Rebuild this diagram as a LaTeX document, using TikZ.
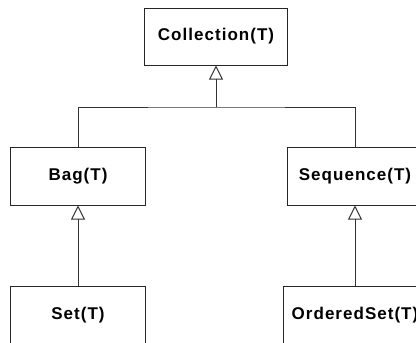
\documentclass[tikz,border=0pt]{standalone}
\usepackage{fontspec}
\setmainfont{Liberation Sans}[LetterSpace=6]
\usetikzlibrary{arrows.meta}
\begin{document}
\begin{tikzpicture}[x=1bp,y=-1bp,
  classbox/.style={draw=black!85, line width=1bp, fill=white, inner sep=0pt,
    font=\fontsize{17bp}{19bp}\selectfont\bfseries, text=black},
  link/.style={draw=black!80, line width=1bp},
  gen/.style={link, -{Triangle[open, length=14bp, width=14bp, line width=1bp]}}]
\useasboundingbox (0,0) rectangle (416,343);
\clip (0,0) rectangle (416,343);

% class boxes
\node[classbox, minimum width=142bp, minimum height=57bp] (coll) at (216,36.5) {Collection(T)};
\node[classbox, minimum width=135bp, minimum height=58bp] (bag) at (78,176) {Bag(T)};
\node[classbox, minimum width=134bp, minimum height=58bp] (seq) at (355,176) {Sequence(T)};
\node[classbox, minimum width=135bp, minimum height=58bp] (set) at (78,315) {Set(T)};
\node[classbox, minimum width=142bp, minimum height=58bp] (oset) at (355,315) {OrderedSet(T)};

% generalisation links
\coordinate (j) at (216,107);
\draw[link] (bag.north) |- (j) -| (seq.north);
\draw[gen] (j) -- (coll.south);
\draw[gen] (set.north) -- (bag.south);
\draw[gen] (oset.north) -- (seq.south);
\end{tikzpicture}
\end{document}
